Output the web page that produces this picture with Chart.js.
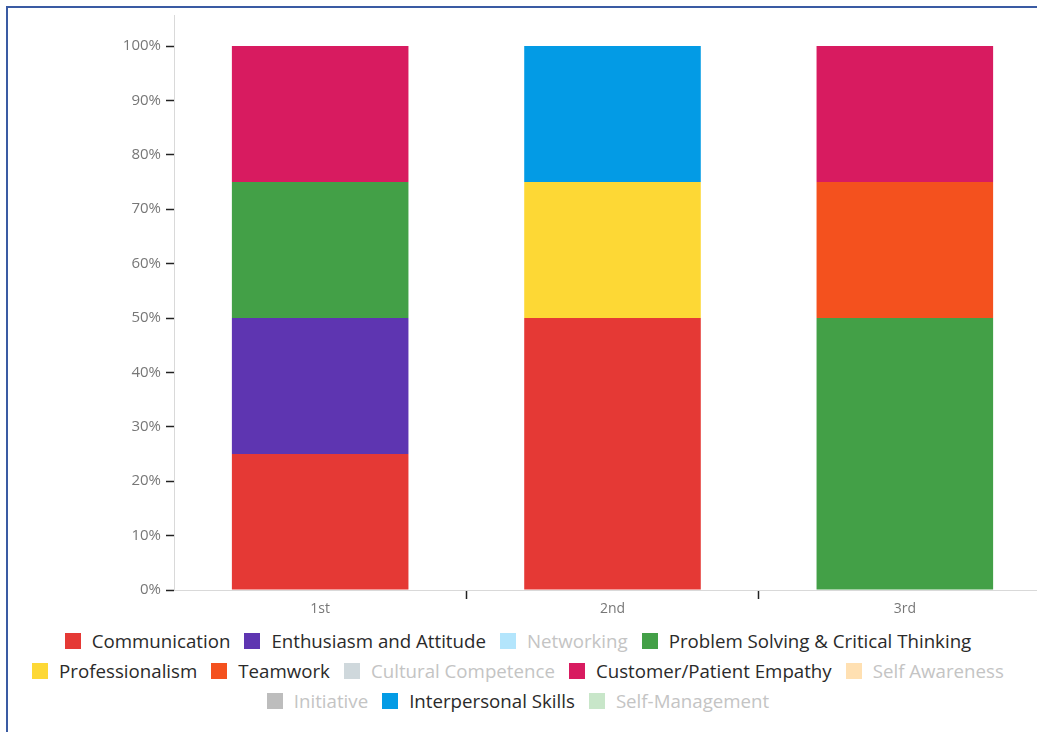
<!DOCTYPE html>
<html>
<head>
<meta charset="utf-8">
<script src="https://cdn.jsdelivr.net/npm/chart.js@4.4.1/dist/chart.umd.min.js"></script>
<style>
  html, body { margin: 0; padding: 0; background: #fff; }
  #page { position: relative; width: 1037px; height: 732px; overflow: hidden; }
  #frame { position: absolute; left: 6px; top: 6px; width: 3000px; height: 3000px;
           border-top: 2px solid #3a5ba3; border-left: 2px solid #3a5ba3; }
  #chartBox { position: absolute; left: -17px; top: 0; width: 1068px; height: 625px; }
  #legend { position: absolute; left: 18px; top: 626px; width: 1000px; display: flex; flex-wrap: wrap; justify-content: center;
            font-family: "Open Sans", sans-serif; font-size: 18.7px; line-height: 30px; }
  .item { display: flex; align-items: center; margin: 0 7px; white-space: nowrap; }
  .box { width: 16px; height: 16px; margin-right: 11px; }
</style>
</head>
<body>
<div id="page">
<div id="frame"></div>
<div id="chartBox"><canvas id="myChart"></canvas></div>
<div id="legend"></div>
</div>
<script>
// categories
const places = ['1st', '2nd', '3rd']

// one entry per skill, percent of answers for each place
const skills = ['Communication', 'Enthusiasm and Attitude', 'Networking', 'Problem Solving & Critical Thinking',
    'Professionalism', 'Teamwork', 'Cultural Competence', 'Customer/Patient Empathy', 'Self Awareness',
    'Initiative', 'Interpersonal Skills', 'Self-Management']
const communication = [25, 50, 0]
const enthusiasm = [25, 0, 0]
const networking = [0, 0, 0]
const problemSolving = [25, 0, 50]
const professionalism = [0, 25, 0]
const teamwork = [0, 0, 25]
const cultural = [0, 0, 0]
const empathy = [25, 0, 25]
const selfAwareness = [0, 0, 0]
const initiative = [0, 0, 0]
const interpersonal = [0, 25, 0]
const selfManagement = [0, 0, 0]
const skillValues = [communication, enthusiasm, networking, problemSolving, professionalism, teamwork,
    cultural, empathy, selfAwareness, initiative, interpersonal, selfManagement]

const colors = ['#e53935', '#5e35b1', '#b3e5fc', '#43a047', '#fdd835', '#f4511e',
    '#cfd8dc', '#d81b60', '#ffe0b2', '#bdbdbd', '#039be5', '#c8e6c9']

// y axis tick values
const yTicks = [0, 10, 20, 30, 40, 50, 60, 70, 80, 90, 100]

let datasets = []
for (let i = 0; i < skills.length; i++) {
    datasets.push({
        label: skills[i],
        data: skillValues[i],
        backgroundColor: colors[i],
        borderWidth: 0,
        barPercentage: 0.604,
        categoryPercentage: 1
    })
}

//builds the legend as html so the rows wrap like the original
const htmlLegend = {
    id: 'htmlLegend',
    afterUpdate(chart) {
        let holder = document.getElementById('legend')
        holder.innerHTML = ''
        chart.data.datasets.forEach(function (ds) {
            let empty = ds.data.every(v => v === 0) //skills nobody picked get greyed out
            let item = document.createElement('div')
            item.className = 'item'
            let box = document.createElement('span')
            box.className = 'box'
            box.style.background = ds.backgroundColor
            let txt = document.createElement('span')
            txt.textContent = ds.label
            txt.style.color = empty ? '#c4c4c4' : '#2a2a2a'
            item.appendChild(box)
            item.appendChild(txt)
            holder.appendChild(item)
        })
    }
}

let ctx = document.getElementById('myChart').getContext('2d')
let chart1 = new Chart(ctx, {
    type: 'bar',
    data: { labels: places, datasets: datasets },
    plugins: [htmlLegend],
    options: {
        responsive: true,
        maintainAspectRatio: false,
        animation: false,
        layout: { padding: { top: 15, left: 0, right: 0, bottom: 0 } },
        plugins: {
            legend: { display: false },
            tooltip: { enabled: false }
        },
        scales: {
            x: {
                stacked: true,
                border: { color: '#d9d9d9', width: 1 },
                grid: {
                    offset: true,
                    drawOnChartArea: false,
                    tickLength: 9,
                    tickWidth: 1.5,
                    tickColor: (c) => (c.index === 0 ? 'rgba(0,0,0,0)' : '#222')
                },
                ticks: { color: '#777', font: { family: 'Open Sans', size: 14 }, padding: 2 },
                afterFit: (s) => { s.height = 35 }
            },
            y: {
                stacked: true,
                min: 0,
                max: 105.7,
                border: { color: '#d9d9d9', width: 1 },
                grid: { drawOnChartArea: false, tickLength: 8, tickWidth: 1.5, tickColor: '#222' },
                afterBuildTicks: (s) => { s.ticks = yTicks.map(v => ({ value: v })) },
                ticks: {
                    color: '#777',
                    font: { family: 'Open Sans', size: 15 },
                    padding: 5,
                    callback: (v) => v + '%'
                },
                afterFit: (s) => { s.width = 191 }
            }
        }
    }
})
</script>
</body>
</html>
